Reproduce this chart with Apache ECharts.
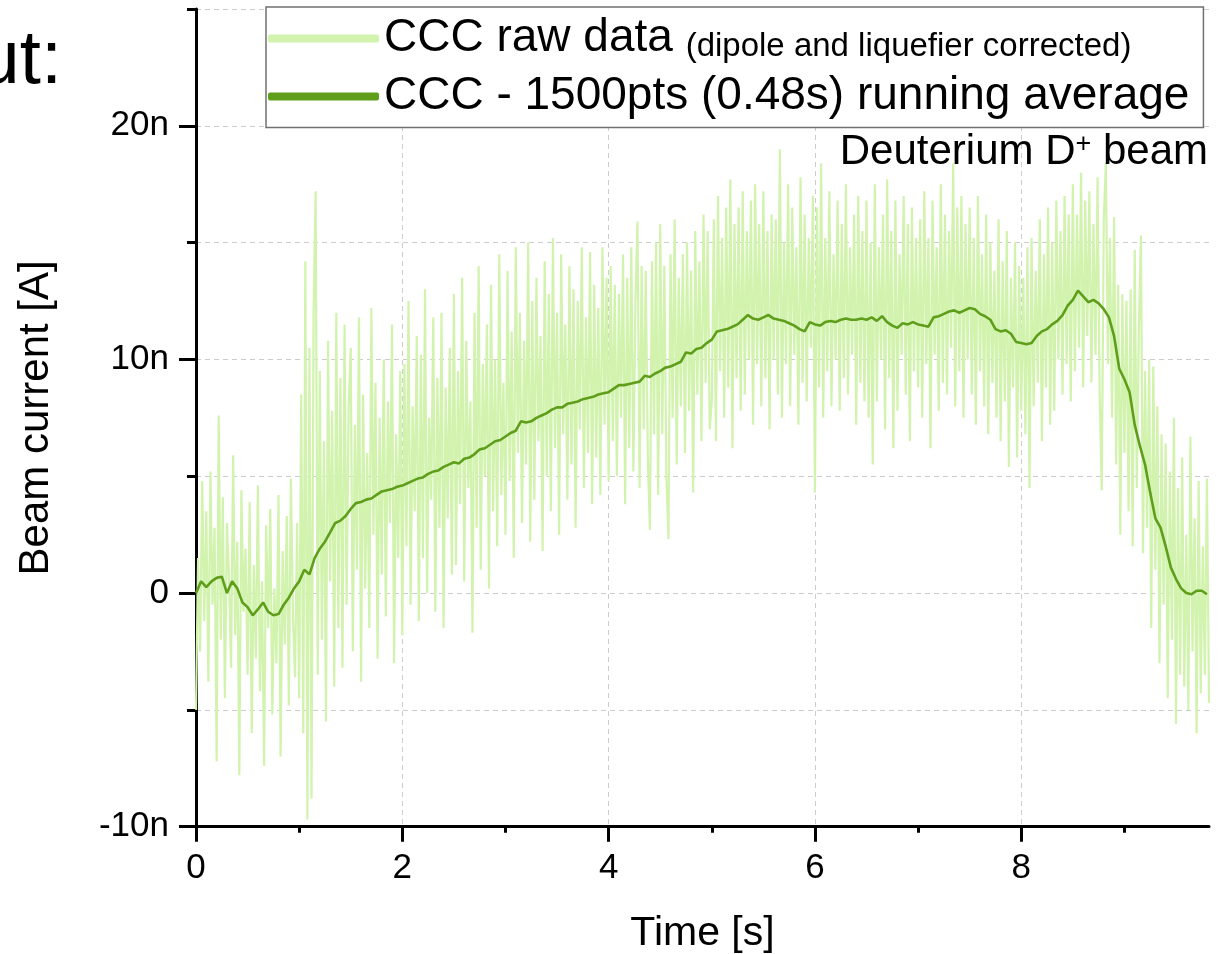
<!DOCTYPE html>
<html>
<head>
<meta charset="utf-8">
<script src="https://cdn.jsdelivr.net/npm/echarts@6/dist/echarts.min.js"></script>
<style>
html,body{margin:0;padding:0;background:#fff;}
#chart{width:1232px;height:954px;}
</style>
</head>
<body>
<div id="chart"></div>
<script>
// ---------------- data ----------------
const RAW_NAME = 'CCC raw data (dipole and liquefier corrected)';
const AVG_NAME = 'CCC - 1500pts (0.48s) running average';
const X_MIN = 0, X_MAX = 9.82;
const Y_MIN = -10, Y_MAX = 25;
const X_MAJOR = [0, 2, 4, 6, 8];
const X_MINOR = [1, 3, 5, 7, 9];
const Y_MAJOR = [-10, 0, 10, 20];

// raw CCC signal (nA), one sample every 0.02 s starting at 0 s
const RAW_DT = 0.02;
const rawValues = [
  -5.0, 1.5, -2.5, 4.8, -1.2, 3.5, -3.8, 5.2, -0.5, 2.8, -7.2, 7.6, -2.0, 4.1, -4.5, 3.0, 0.6, -3.2, 5.9, -1.8, 2.2, -7.8, 4.4, -0.8, 1.9,
  -3.5, 3.9, -6.0, 1.2, -2.8, 4.6, -4.2, 0.5, -7.4, 2.9, -1.5, 3.6, -5.2, 0.2, -3.0, 4.2, -7.0, 1.8, -2.2, 3.3, -4.8, 4.9, -1.0, -3.6, 3.0,
  -4.5, 8.5, -6.0, 14.2, -9.7, 10.5, -8.8, 12.0, 17.2, -3.5, 9.5, -2.0, 6.5, -5.5, 10.8, 0.5, 7.8, -4.0, 12.0, -1.5, 9.2, -3.2, 11.5, -0.5, 8.0,
  10.5, -2.5, 7.2, 1.0, 11.8, -3.8, 8.5, 0.2, 6.0, -1.5, 12.2, 2.5, 9.0, -2.8, 7.5, 0.8, 10.0, -1.0, 8.2, 3.0, 11.5, -3.0, 6.8, 1.5, 9.5,
  -1.8, 9.8, 2.0, 12.5, -0.5, 8.0, 3.5, 11.0, -1.2, 10.2, 1.5, 13.0, 0.0, 7.5, 4.0, 11.8, -0.8, 9.2, 2.8, 12.0, -1.5, 8.8, 3.2, 10.5, 0.8,
  12.8, 1.2, 9.5, 3.8, 13.5, 0.5, 10.8, 4.5, 8.2, -1.7, 12.0, 2.8, 14.0, 1.0, 9.8, 5.0, 11.5, 0.2, 13.2, 3.5, 10.0, 2.0, 14.5, 4.2, 9.0,
  2.5, 13.8, 4.8, 11.2, 1.5, 14.8, 6.0, 12.0, 3.0, 10.8, 5.5, 15.0, 2.2, 12.5, 4.0, 13.5, 6.5, 11.0, 1.8, 14.2, 5.0, 12.8, 3.5, 15.2, 6.2,
  12.0, 2.5, 14.5, 6.8, 11.5, 4.0, 14.0, 5.5, 13.0, 2.8, 12.5, 7.0, 14.8, 4.5, 11.8, 6.0, 14.6, 3.8, 13.2, 5.8, 12.2, 4.2, 14.8, 7.2, 13.5,
  4.8, 14.0, 6.5, 13.2, 5.0, 12.8, 7.5, 14.5, 3.8, 13.5, 6.2, 14.8, 5.2, 12.5, 15.9, 4.5, 14.0, 7.0, 13.8, 5.8, 2.7, 14.2, 6.8, 15.0, 4.2,
  15.8, 6.8, 14.0, 5.0, 2.3, 14.5, 7.5, 16.0, 5.5, 13.5, 8.0, 14.5, 6.0, 15.0, 7.8, 13.8, 4.3, 15.5, 8.5, 14.2, 6.5, 16.2, 9.0, 15.5, 7.0,
  8.2, 16.0, 6.5, 17.0, 9.5, 15.2, 7.5, 16.5, 8.8, 17.7, 6.2, 15.8, 9.2, 16.5, 7.8, 17.2, 8.5, 15.5, 10.0, 16.8, 7.2, 17.5, 9.8, 15.8, 8.0,
  17.2, 9.2, 15.5, 7.0, 16.2, 10.0, 16.0, 8.5, 19.0, 7.5, 15.0, 9.8, 17.5, 8.0, 16.5, 10.2, 14.8, 7.2, 17.8, 9.0, 16.2, 8.2, 15.2, 10.5, 17.0,
  4.3, 16.5, 8.8, 18.4, 7.5, 15.2, 9.5, 17.2, 8.0, 14.5, 10.0, 16.8, 7.8, 15.8, 9.2, 17.5, 8.5, 14.8, 10.2, 16.2, 7.2, 17.0, 9.0, 15.5, 8.2,
  16.8, 7.5, 15.0, 5.5, 17.5, 8.2, 14.8, 10.0, 16.2, 7.0, 17.7, 9.2, 15.5, 6.2, 16.8, 7.8, 14.5, 10.2, 17.0, 8.5, 15.8, 6.5, 16.5, 9.5, 15.2,
  8.8, 16.0, 7.5, 17.2, 9.8, 15.2, 6.2, 16.8, 10.2, 14.8, 7.8, 17.5, 9.0, 16.2, 8.5, 15.5, 10.5, 18.4, 8.0, 16.5, 9.5, 17.0, 7.5, 15.8, 10.0,
  16.5, 8.5, 15.2, 7.2, 17.0, 9.5, 14.5, 8.0, 16.2, 6.8, 15.0, 9.0, 13.8, 7.5, 16.0, 6.5, 14.2, 8.2, 15.5, 5.4, 13.5, 8.8, 15.0, 5.8, 14.0,
  7.8, 13.5, 6.8, 14.8, 4.5, 15.2, 8.0, 13.8, 9.0, 16.0, 6.5, 14.5, 8.8, 16.5, 7.2, 15.0, 7.8, 16.8, 10.0, 15.5, 8.5, 17.0, 9.8, 16.2, 8.2,
  17.5, 9.5, 16.2, 10.5, 18.0, 8.8, 16.8, 11.0, 17.2, 9.0, 15.8, 10.2, 17.8, 8.5, 4.4, 16.0, 18.4, 9.8, 15.2, 7.5, 16.1, 5.5, 13.2, 2.5, 12.8,
  6.0, 12.5, 3.5, 13.0, 2.0, 14.7, 4.5, 11.2, 15.3, 1.7, 9.5, 2.8, 10.0, -1.5, 9.7, 1.0, 8.0, -3.0, 6.8, -0.5, 6.4, -4.5, 5.2, -2.0, 7.5,
  -5.6, 4.5, -3.5, 5.8, -4.0, 2.5, -5.0, 6.7, -2.5, 3.2, -6.0, 4.8, -4.3, 2.0, -3.5, 4.9, -4.7
];

// 1500-point running average (nA), one value every 0.05 s starting at 0 s
const AVG_DT = 0.05;
const avgValues = [
  0.0, 0.5, 0.25, 0.5, 0.65, 0.7, 0.0, 0.5, 0.2, -0.4, -0.6, -0.95, -0.7, -0.4, -0.8, -0.95, -0.9, -0.5, -0.2, 0.2,
  0.5, 1.0, 0.8, 1.5, 1.9, 2.2, 2.6, 3.0, 3.1, 3.3, 3.6, 3.85, 3.9, 4.0, 4.05, 4.2, 4.35, 4.4, 4.45, 4.55,
  4.6, 4.7, 4.8, 4.9, 4.95, 5.1, 5.2, 5.25, 5.4, 5.5, 5.6, 5.55, 5.75, 5.8, 5.95, 6.15, 6.2, 6.35, 6.5, 6.55,
  6.7, 6.85, 6.95, 7.35, 7.3, 7.35, 7.5, 7.6, 7.7, 7.85, 7.95, 7.95, 8.1, 8.15, 8.2, 8.3, 8.35, 8.4, 8.5, 8.55,
  8.6, 8.75, 8.9, 8.9, 8.95, 9.0, 9.05, 9.3, 9.25, 9.4, 9.5, 9.65, 9.7, 9.8, 9.9, 10.3, 10.25, 10.45, 10.5, 10.7,
  10.85, 11.2, 11.25, 11.3, 11.4, 11.5, 11.7, 11.9, 11.75, 11.7, 11.8, 11.9, 11.75, 11.7, 11.65, 11.55, 11.45, 11.3, 11.2, 11.6,
  11.5, 11.45, 11.6, 11.65, 11.6, 11.7, 11.75, 11.7, 11.7, 11.75, 11.7, 11.8, 11.65, 11.85, 11.6, 11.45, 11.35, 11.55, 11.5, 11.6,
  11.5, 11.45, 11.4, 11.8, 11.85, 11.95, 12.05, 12.1, 12.0, 12.1, 12.2, 12.15, 11.95, 11.85, 11.7, 11.3, 11.2, 11.25, 11.1, 10.75,
  10.7, 10.65, 10.7, 11.0, 11.2, 11.3, 11.5, 11.65, 11.9, 12.3, 12.55, 12.95, 12.7, 12.45, 12.55, 12.4, 12.15, 11.8, 11.0, 9.6,
  9.15, 8.6, 7.2, 6.3, 5.5, 4.3, 3.2, 2.8, 2.0, 1.1, 0.6, 0.2, 0.0, -0.05, 0.1, 0.1, -0.05
];

// ---------------- chart ----------------
const FONT = '"Liberation Sans", Arial, Helvetica, sans-serif';
const RAW_COLOR = '#d2f3ae';
const AVG_COLOR = '#5e9e1b';
const GRID_LINE = { show: true, lineStyle: { color: '#cccccc', width: 1, type: [5, 4] } };

const rawData = rawValues.map((v, i) => [+(i * RAW_DT).toFixed(3), v]);
const avgData = avgValues.map((v, i) => [+(i * AVG_DT).toFixed(3), v]);

const chart = echarts.init(document.getElementById('chart'), null, { renderer: 'canvas' });

const option = {
  animation: false,
  backgroundColor: '#ffffff',
  textStyle: { fontFamily: FONT, color: '#000' },
  grid: {
    left: 196, top: 9, right: 23, bottom: 127.3,
    containLabel: false, outerBoundsMode: 'none'
  },
  legend: {
    orient: 'vertical',
    left: 266,
    top: 7,
    padding: [8.5, 14, 8, 2],
    itemGap: 10,
    itemWidth: 111,
    itemHeight: 8,
    icon: 'roundRect',
    selectedMode: false,
    backgroundColor: '#ffffff',
    borderColor: '#707070',
    borderWidth: 1.5,
    borderRadius: 0,
    data: [
      { name: RAW_NAME, itemStyle: { color: RAW_COLOR } },
      { name: AVG_NAME, itemStyle: { color: AVG_COLOR } }
    ],
    formatter: function (name) {
      if (name === RAW_NAME) return '{a|CCC raw data }{b|(dipole and liquefier corrected)}';
      return '{a|CCC - 1500pts (0.48s) running average}';
    },
    textStyle: {
      fontFamily: FONT,
      color: '#000',
      rich: {
        a: { fontSize: 46, lineHeight: 50, fontFamily: FONT, color: '#000' },
        b: { fontSize: 33, lineHeight: 41, verticalAlign: 'bottom', fontFamily: FONT, color: '#000' }
      }
    }
  },
  xAxis: [
    {
      type: 'value', min: X_MIN, max: X_MAX, interval: 2, position: 'bottom',
      nameMoveOverlap: false,
      axisLine: { show: true, onZero: false, lineStyle: { color: '#000', width: 3 } },
      axisTick: { show: true, length: 15, customValues: X_MAJOR, lineStyle: { color: '#000', width: 3 } },
      axisLabel: { show: true, customValues: X_MAJOR, fontSize: 35, margin: 24, color: '#000', fontFamily: FONT },
      splitLine: GRID_LINE,
      name: 'Time [s]', nameLocation: 'middle', nameGap: 86,
      nameTextStyle: { fontSize: 41, color: '#000', fontFamily: FONT }
    },
    {
      type: 'value', min: X_MIN, max: X_MAX, interval: 1, position: 'bottom',
      axisLine: { show: false, onZero: false },
      axisTick: { show: true, length: 6, customValues: X_MINOR, lineStyle: { color: '#000', width: 3 } },
      axisLabel: { show: false },
      splitLine: { show: false }
    }
  ],
  yAxis: [
    {
      type: 'value', min: Y_MIN, max: Y_MAX, interval: 5, position: 'left',
      nameMoveOverlap: false,
      axisLine: { show: true, onZero: false, lineStyle: { color: '#000', width: 3 } },
      axisTick: { show: true, length: 9, lineStyle: { color: '#000', width: 3 } },
      axisLabel: { show: false },
      splitLine: GRID_LINE,
      name: 'Beam current [A]', nameLocation: 'middle', nameGap: 139,
      nameTextStyle: { fontSize: 42, color: '#000', fontFamily: FONT }
    },
    {
      type: 'value', min: Y_MIN, max: Y_MAX, interval: 5, position: 'left',
      axisLine: { show: false, onZero: false },
      axisTick: { show: true, length: 17, customValues: Y_MAJOR, lineStyle: { color: '#000', width: 3 } },
      axisLabel: {
        show: true, customValues: Y_MAJOR, fontSize: 35, margin: 27, color: '#000', fontFamily: FONT,
        formatter: function (v) { return v === 0 ? '0' : (v % 10 === 0 ? v + 'n' : ''); }
      },
      splitLine: { show: false }
    }
  ],
  series: [
    {
      name: RAW_NAME, type: 'line', xAxisIndex: 0, yAxisIndex: 0,
      data: rawData, showSymbol: false, symbol: 'none', sampling: null,
      color: RAW_COLOR, itemStyle: { color: RAW_COLOR },
      lineStyle: { color: RAW_COLOR, width: 2.2 }, z: 2, silent: true
    },
    {
      name: AVG_NAME, type: 'line', xAxisIndex: 0, yAxisIndex: 0,
      data: avgData, showSymbol: false, symbol: 'none',
      color: AVG_COLOR, itemStyle: { color: AVG_COLOR },
      lineStyle: { color: AVG_COLOR, width: 2.6 }, z: 3, silent: true
    }
  ],
  graphic: [
    {
      type: 'text', x: 62, y: 62, z: 10,
      style: {
        text: '{u|ut:}', align: 'right', verticalAlign: 'middle',
        rich: { u: { fontSize: 76, lineHeight: 76, fontFamily: FONT, fill: '#000' } }
      }
    },
    {
      type: 'text', x: 1208, y: 152, z: 10,
      style: {
        text: '{a|Deuterium D}{s|+}{a| beam}',
        align: 'right', verticalAlign: 'middle',
        rich: {
          a: { fontSize: 42, lineHeight: 42, fontFamily: FONT, fill: '#000' },
          s: { fontSize: 27, lineHeight: 20, verticalAlign: 'top', fontFamily: FONT, fill: '#000' }
        }
      }
    }
  ]
};

chart.setOption(option);
</script>
</body>
</html>
